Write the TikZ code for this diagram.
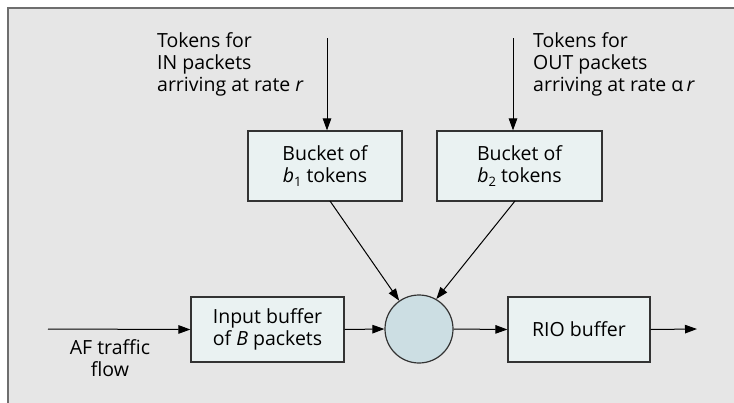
\documentclass[tikz,border=0pt]{standalone}
\usepackage{fontspec}
\setmainfont{Open Sans}
\usetikzlibrary{arrows.meta}
\definecolor{bggray}{HTML}{E6E6E6}
\definecolor{framegray}{HTML}{6E6E6E}
\definecolor{boxfill}{HTML}{EAF2F2}
\definecolor{circfill}{HTML}{CCDEE3}
\definecolor{edge}{HTML}{333333}
\newcommand{\sbs}[1]{\raisebox{-0.25em}{\fontsize{13}{13}\selectfont #1}}
\begin{document}
\begin{tikzpicture}[x=1pt,y=-1pt,
  every node/.style={font=\fontsize{19.5}{22}\selectfont},
  blockbox/.style={draw=edge,line width=1.2pt,fill=boxfill,inner sep=0pt,align=center},
  conn/.style={line width=1pt,-{Triangle[length=12pt,width=8.5pt]}},
  lbl/.style={align=left,inner sep=0pt,anchor=north west}]
\useasboundingbox (0,0) rectangle (734,402);
\clip (0,0) rectangle (734,402);
\fill[bggray,draw=framegray,line width=2pt] (8,8) rectangle (760,430);
% boxes
\node[blockbox,minimum width=154pt,minimum height=70pt] (b1) at (325,166) {Bucket of\\\textit{b}\sbs{1} tokens};
\node[blockbox,minimum width=165pt,minimum height=70pt] (b2) at (519.5,166) {Bucket of\\\textit{b}\sbs{2} tokens};
\node[blockbox,minimum width=153pt,minimum height=65pt] (ib) at (267.5,329.5) {Input buffer\\of \textit{B} packets};
\node[draw=edge,line width=1.2pt,fill=circfill,circle,minimum size=68pt,inner sep=0pt] (c) at (419,329) {};
\node[blockbox,minimum width=142pt,minimum height=65pt] (rio) at (579,329.5) {RIO buffer};
% free ends
\coordinate (in1) at (327,38);
\coordinate (in2) at (513,38);
\coordinate (src) at (48,329);
\coordinate (dst) at (697,329);
% texts
\node[lbl] (t1) at (157,32) {Tokens for\\IN packets\\arriving at rate \textit{r}};
\node[lbl] (t2) at (533,32) {Tokens for\\OUT packets\\arriving at rate α\,\textit{r}};
\node[align=center,inner sep=0pt] (af) at (110,358) {AF traffic\\flow};
% connectors
\draw[conn] (in1) -- (in1 |- b1.north);
\draw[conn] (in2) -- (in2 |- b2.north);
\draw[conn] (330,201) -- (c.125);
\draw[conn] (515,201) -- (c.60);
\draw[conn] (src) -- (ib.west);
\draw[conn] (ib.east) -- (c.west);
\draw[conn] (c.east) -- (rio.west);
\draw[conn] (rio.east) -- (dst);
\end{tikzpicture}
\end{document}
